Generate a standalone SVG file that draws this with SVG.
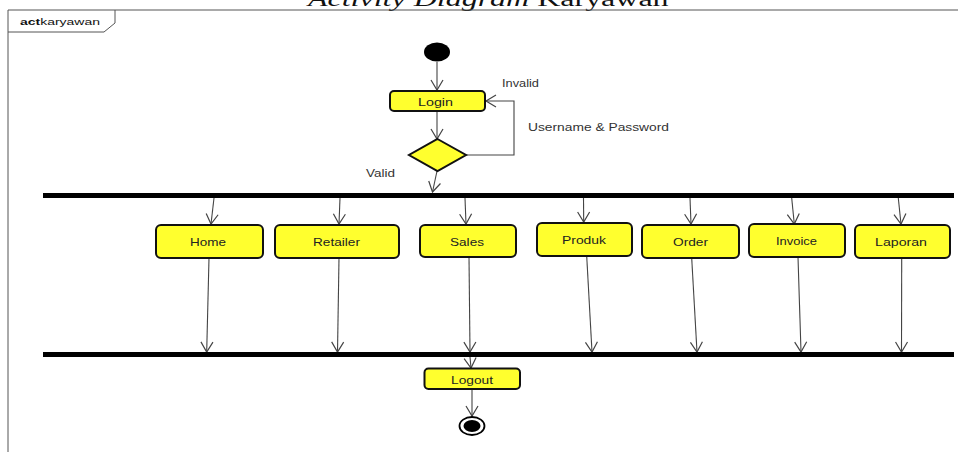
<svg xmlns="http://www.w3.org/2000/svg" width="958" height="452" viewBox="0 0 958 452">
<style>
.frame{fill:none;stroke:#555;stroke-width:1}
.act{fill:#ffff2e;stroke:#111;stroke-width:2}
.lbl{font-family:"Liberation Sans",Arial,sans-serif;font-size:11.5px;fill:#222}
.glbl{font-family:"Liberation Sans",Arial,sans-serif;font-size:11.5px;fill:#333}
.edge{fill:none;stroke:#444;stroke-width:1.1}
.bar{fill:#000}
</style>
<defs>
<marker id="arr" markerUnits="userSpaceOnUse" markerWidth="14" markerHeight="16" viewBox="-12 -8 14 16" refX="0" refY="0" orient="auto">
<path d="M-10,-6 L0,0 L-10,6" fill="none" stroke="#444" stroke-width="1.2"/>
</marker>
</defs>
<rect width="958" height="452" fill="#fff"/>
<text transform="translate(308,6) scale(1.6,1)" font-family="'Liberation Serif','Times New Roman',serif" font-size="20" fill="#111"><tspan font-style="italic">Activity Diagram</tspan> Karyawan</text>
<g id="frame">
<path class="frame" d="M8,452 V10 H958"/>
<path class="frame" d="M8,32 H104 L115,23 V10"/>
<text x="20" y="25" font-family="'Liberation Sans',Arial,sans-serif" font-size="9" fill="#111" textLength="80" lengthAdjust="spacingAndGlyphs"><tspan font-weight="bold">act</tspan>karyawan</text>
</g>
<g id="edges">
<line class="edge" x1="437" y1="62" x2="437" y2="90" marker-end="url(#arr)"/>
<line class="edge" x1="437" y1="111" x2="437" y2="139" marker-end="url(#arr)"/>
<polyline class="edge" points="466,155 514,155 514,101 486,101" marker-end="url(#arr)"/>
<line class="edge" x1="437" y1="171" x2="432.5" y2="192" marker-end="url(#arr)"/>
<line class="edge" x1="214" y1="198" x2="211" y2="224" marker-end="url(#arr)"/>
<line class="edge" x1="340" y1="198" x2="339" y2="224" marker-end="url(#arr)"/>
<line class="edge" x1="465" y1="198" x2="466" y2="224" marker-end="url(#arr)"/>
<line class="edge" x1="583.5" y1="198" x2="583.7" y2="222" marker-end="url(#arr)"/>
<line class="edge" x1="690" y1="198" x2="691" y2="224" marker-end="url(#arr)"/>
<line class="edge" x1="791.7" y1="198" x2="794.3" y2="224" marker-end="url(#arr)"/>
<line class="edge" x1="898.3" y1="198" x2="901" y2="224" marker-end="url(#arr)"/>
<line class="edge" x1="209" y1="258" x2="206.7" y2="352" marker-end="url(#arr)"/>
<line class="edge" x1="339" y1="258" x2="337.5" y2="352" marker-end="url(#arr)"/>
<line class="edge" x1="469" y1="257" x2="470" y2="352" marker-end="url(#arr)"/>
<line class="edge" x1="586.7" y1="256" x2="592" y2="352" marker-end="url(#arr)"/>
<line class="edge" x1="691.7" y1="258" x2="697" y2="352" marker-end="url(#arr)"/>
<line class="edge" x1="798" y1="257" x2="801" y2="352" marker-end="url(#arr)"/>
<line class="edge" x1="901.7" y1="258" x2="901.5" y2="352" marker-end="url(#arr)"/>
<line class="edge" x1="470" y1="357" x2="471" y2="368" marker-end="url(#arr)"/>
<line class="edge" x1="472" y1="389" x2="472" y2="416" marker-end="url(#arr)"/>
<text class="glbl" x="502" y="87" textLength="37" lengthAdjust="spacingAndGlyphs">Invalid</text>
<text class="glbl" x="528" y="131" textLength="141" lengthAdjust="spacingAndGlyphs">Username &amp; Password</text>
<text class="glbl" x="366" y="177" textLength="29" lengthAdjust="spacingAndGlyphs">Valid</text>
</g>
<g id="start"><ellipse cx="437" cy="52" rx="13" ry="9.5" fill="#000"/></g>
<g id="login">
<rect class="act" x="390" y="91" width="95" height="20" rx="4"/>
<text class="lbl" x="418" y="106" textLength="35" lengthAdjust="spacingAndGlyphs">Login</text>
</g>
<g id="decision"><polygon points="437.5,139 466,155 437.5,171 409,155" fill="#ffff2e" stroke="#111" stroke-width="2"/></g>
<g id="fork"><rect class="bar" x="43" y="193" width="911" height="5"/></g>
<g id="home"><rect class="act" x="156" y="225" width="107" height="33" rx="5"/><text class="lbl" x="190" y="246" textLength="36" lengthAdjust="spacingAndGlyphs">Home</text></g>
<g id="retailer"><rect class="act" x="275" y="225" width="124" height="33" rx="5"/><text class="lbl" x="313" y="246" textLength="47" lengthAdjust="spacingAndGlyphs">Retailer</text></g>
<g id="sales"><rect class="act" x="420" y="225" width="96" height="32" rx="5"/><text class="lbl" x="450" y="246" textLength="34" lengthAdjust="spacingAndGlyphs">Sales</text></g>
<g id="produk"><rect class="act" x="537" y="223" width="95" height="33" rx="5"/><text class="lbl" x="562" y="244" textLength="44" lengthAdjust="spacingAndGlyphs">Produk</text></g>
<g id="order"><rect class="act" x="642" y="225" width="97" height="33" rx="5"/><text class="lbl" x="673" y="246" textLength="35" lengthAdjust="spacingAndGlyphs">Order</text></g>
<g id="invoice"><rect class="act" x="749" y="224" width="96" height="33" rx="5"/><text class="lbl" x="776" y="245" textLength="41" lengthAdjust="spacingAndGlyphs">Invoice</text></g>
<g id="laporan"><rect class="act" x="855" y="225" width="95" height="33" rx="5"/><text class="lbl" x="875" y="246" textLength="52" lengthAdjust="spacingAndGlyphs">Laporan</text></g>
<g id="join"><rect class="bar" x="43" y="352" width="911" height="5"/></g>
<g id="logout"><rect class="act" x="424.5" y="368.5" width="95.5" height="20.5" rx="4"/><text class="lbl" x="451" y="384" textLength="42" lengthAdjust="spacingAndGlyphs">Logout</text></g>
<g id="end">
<ellipse cx="472" cy="426" rx="12.5" ry="9" fill="#fff" stroke="#000" stroke-width="1.8"/>
<ellipse cx="472" cy="426" rx="8.5" ry="6" fill="#000"/>
</g>
</svg>
